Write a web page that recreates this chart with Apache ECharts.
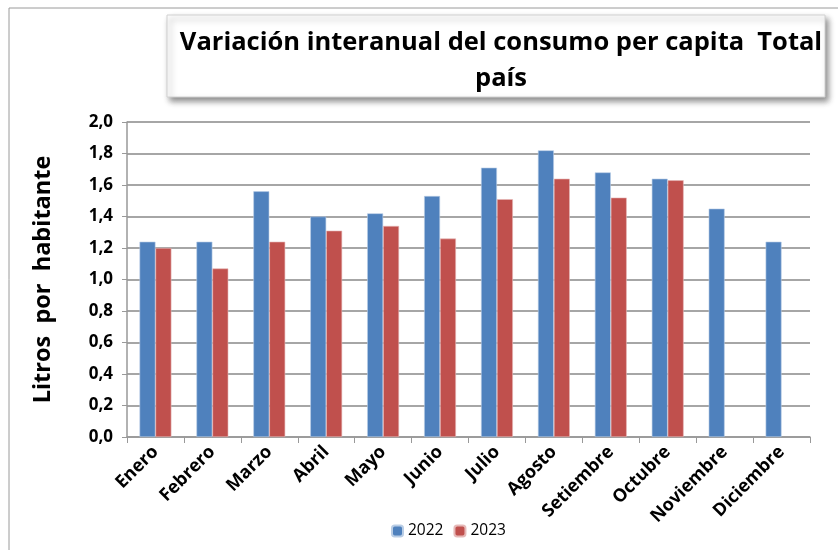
<!DOCTYPE html>
<html>
<head>
<meta charset="utf-8">
<script src="https://cdn.jsdelivr.net/npm/echarts@6/dist/echarts.min.js"></script>
<style>
  html, body { margin: 0; padding: 0; background: #fff; }
  #chart { width: 838px; height: 550px; }
</style>
</head>
<body>
<div id="chart"></div>
<script>
// month names and values per capita (litros por habitante)
var meses = ['Enero', 'Febrero', 'Marzo', 'Abril', 'Mayo', 'Junio', 'Julio', 'Agosto', 'Setiembre', 'Octubre', 'Noviembre', 'Diciembre'];
var datos2022 = [1.24, 1.24, 1.56, 1.40, 1.42, 1.53, 1.71, 1.82, 1.68, 1.64, 1.45, 1.24];
var datos2023 = [1.20, 1.07, 1.24, 1.31, 1.34, 1.26, 1.51, 1.64, 1.52, 1.63, null, null];
var titulo = 'Variación interanual del consumo per capita  Total\npaís';

var fuente = '"Open Sans", sans-serif';

var chart = echarts.init(document.getElementById('chart'));
chart.setOption({
  animation: false,
  textStyle: { fontFamily: fuente },
  graphic: [
    {
      type: 'rect',
      shape: { x: 9, y: 8, width: 850, height: 560 },
      style: { fill: 'none', stroke: '#9a9a9a', lineWidth: 1 },
      silent: true
    },
    {
      type: 'rect',
      shape: { x: 167, y: 15, width: 658, height: 82 },
      style: {
        fill: '#fff', stroke: '#d0d0d0', lineWidth: 1,
        shadowBlur: 6, shadowOffsetX: 3, shadowOffsetY: 4, shadowColor: 'rgba(0,0,0,0.45)'
      },
      silent: true
    }
  ],
  title: {
    text: titulo,
    left: 496,
    top: 20,
    textAlign: 'center',
    textStyle: { fontFamily: fuente, fontWeight: 'bold', fontSize: 25.5, lineHeight: 36, color: '#000' }
  },
  legend: {
    bottom: 6,
    left: 386,
    itemWidth: 11,
    itemHeight: 11,
    itemGap: 10,
    textStyle: { fontFamily: fuente, fontSize: 15.5, color: '#000' },
    data: ['2022', '2023']
  },
  grid: { left: 127, right: 28, top: 122, bottom: 113 },
  xAxis: {
    type: 'category',
    data: meses,
    axisLine: { lineStyle: { color: '#999', width: 1.5 } },
    axisTick: { show: true, length: 6, lineStyle: { color: '#999' } },
    axisLabel: {
      rotate: 45, interval: 0, margin: 12,
      fontFamily: fuente, fontWeight: 'bold', fontSize: 18, color: '#000'
    }
  },
  yAxis: {
    type: 'value',
    min: 0, max: 2, interval: 0.2,
    name: 'Litros  por  habitante',
    nameLocation: 'middle',
    nameGap: 72,
    nameTextStyle: { fontFamily: fuente, fontWeight: 'bold', fontSize: 23.5, color: '#000' },
    axisLine: { show: true, lineStyle: { color: '#999', width: 1.5 } },
    axisTick: { show: true, length: 5, lineStyle: { color: '#999' } },
    axisLabel: {
      margin: 14,
      fontFamily: fuente, fontWeight: 'bold', fontSize: 17, color: '#000',
      formatter: function (v) { return v.toFixed(1).replace('.', ','); }
    },
    splitLine: { lineStyle: { color: '#888', width: 1.5 } }
  },
  series: [
    {
      name: '2022', type: 'bar', data: datos2022,
      barGap: '0%', barCategoryGap: '44%',
      itemStyle: { color: '#4F81BD', borderColor: '#b9cde5', borderWidth: 0.6 }
    },
    {
      name: '2023', type: 'bar', data: datos2023,
      itemStyle: { color: '#C0504D', borderColor: '#e6b9b8', borderWidth: 0.6 }
    }
  ]
});
</script>
</body>
</html>
